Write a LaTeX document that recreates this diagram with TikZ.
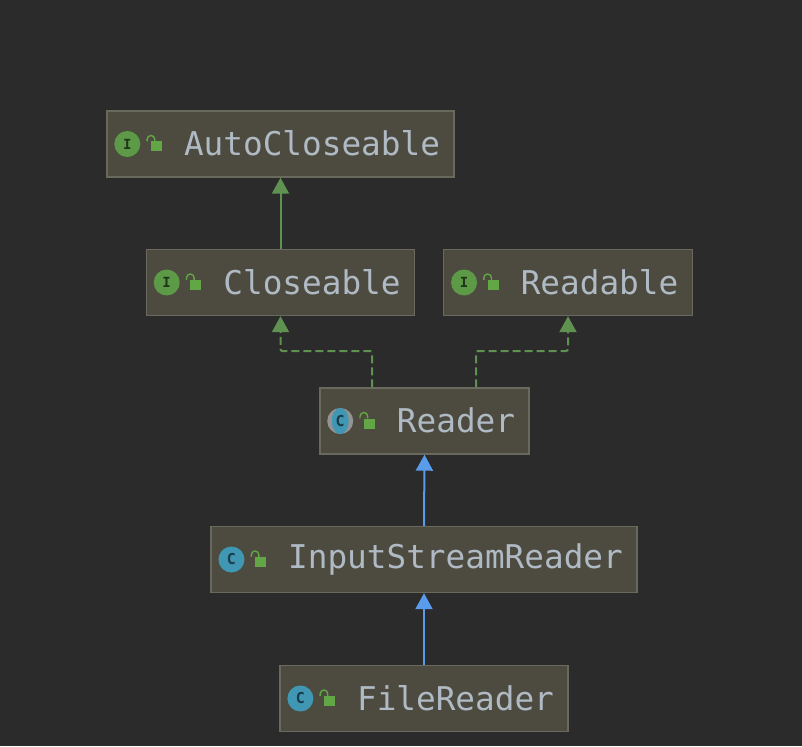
\documentclass[tikz,border=0pt]{standalone}
\usepackage{fontspec}
\setmonofont{DejaVu Sans Mono}
\usetikzlibrary{arrows.meta,positioning,calc,shapes.geometric}
\definecolor{canvas}{HTML}{2B2B2B}
\definecolor{boxfill}{HTML}{4D4B40}
\definecolor{boxline}{HTML}{6A695E}
\definecolor{labeltext}{HTML}{B0BAC4}
\definecolor{markgreen}{HTML}{5C9A47}
\definecolor{lockgreen}{HTML}{62A645}
\definecolor{markblue}{HTML}{3F97B4}
\definecolor{linkgreen}{HTML}{5F9150}
\definecolor{linkblue}{HTML}{5A9CEC}
\begin{document}
\begin{tikzpicture}[
  x=1pt, y=-1pt,
  classbox/.style={draw=boxline,fill=boxfill,line width=1.4pt,minimum height=66pt,inner xsep=14pt,inner ysep=0pt,
    font=\ttfamily\fontsize{32.7}{34}\selectfont,text=labeltext},
  ifacemark/.style={circle,fill=markgreen,minimum size=26pt,inner sep=0pt,
    font=\ttfamily\bfseries\fontsize{14}{14}\selectfont,text=black!65!markgreen},
  classmark/.style={circle,fill=markblue,minimum size=26pt,inner sep=0pt,
    font=\ttfamily\bfseries\fontsize{15}{15}\selectfont,text=black!60!markblue},
  lockbody/.style={fill=lockgreen,minimum width=11pt,minimum height=10pt,inner sep=0pt},
  extends/.style={draw=linkgreen,line width=2pt,-{Triangle[length=16pt,width=17pt,fill=linkgreen]}},
  implements/.style={extends,dash pattern=on 8pt off 4pt,rounded corners=2pt},
  subclass/.style={draw=linkblue,line width=2pt,-{Triangle[length=16pt,width=17pt,fill=linkblue]}}]
  % canvas
  \fill[canvas] (0,0) rectangle (802,746);
  % class boxes
  \node[classbox] (autocloseable) at (280.5,144)  {\hspace*{63pt}\raisebox{1.5pt}{AutoCloseable}};
  \node[classbox] (closeable)     at (280.5,282.5) {\hspace*{63pt}\raisebox{1.5pt}{Closeable}};
  \node[classbox] (readable)      at (568,282.5)  {\hspace*{63pt}\raisebox{1.5pt}{Readable}};
  \node[classbox] (reader)        at (424.5,421)  {\hspace*{63pt}\raisebox{1.5pt}{Reader}};
  \node[classbox] (inputreader)   at (424,559.5)  {\hspace*{63pt}\raisebox{1.5pt}{InputStreamReader}};
  \node[classbox] (filereader)    at (424,698.5)  {\hspace*{63pt}\raisebox{1.5pt}{FileReader}};
  % kind marks
  \foreach \b in {autocloseable,closeable,readable}{
    \node[ifacemark] (\b mark) at ([xshift=21pt]\b.west) {I};}
  \node[classmark,fill=gray!85] (readerring) at ([xshift=21pt]reader.west) {};
  \node[classmark,ellipse,minimum width=17pt,minimum height=26pt] (readermark) at (readerring.center) {C};
  \foreach \b in {inputreader,filereader}{
    \node[classmark] (\b mark) at ([xshift=21pt]\b.west) {C};}
  % locks
  \foreach \b in {autocloseable,closeable,readable,reader,inputreader,filereader}{
    \node[lockbody] (\b lock) at ([xshift=50pt,yshift=-2.5pt]\b.west) {};
    \draw[lockgreen,line width=1.4pt] (\b lock.north west) ++(-3.5,0) -- ++(0,-2)
      arc[start angle=180,end angle=0,radius=3.8pt] -- ++(0,2);}
  % links
  \coordinate (leftbend)  at (372,351);
  \coordinate (rightbend) at (476,351);
  \draw[extends] (closeable.north) -- (autocloseable.south);
  \draw[implements] (reader.north -| leftbend) -- (leftbend) -| (closeable.south);
  \draw[implements] (reader.north -| rightbend) -- (rightbend) -| (readable.south);
  \draw[subclass] (inputreader.north) -- (reader.south);
  \draw[subclass] (filereader.north) -- (inputreader.south);
\end{tikzpicture}
\end{document}
